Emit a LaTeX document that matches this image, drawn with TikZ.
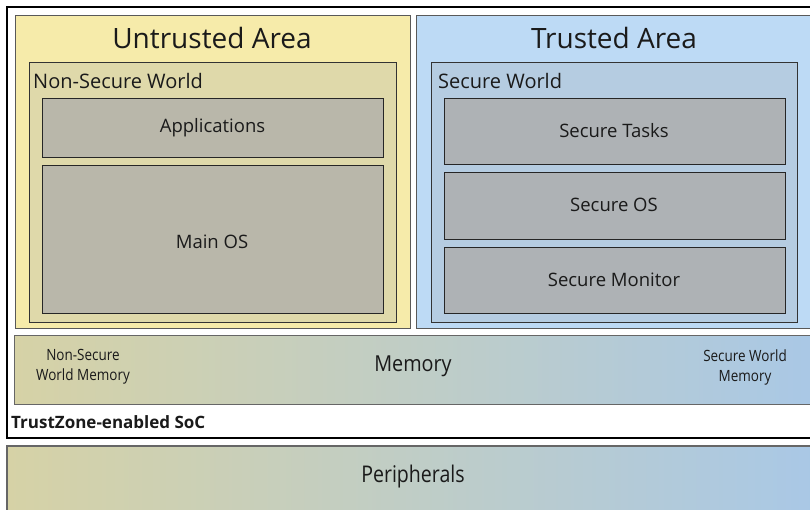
\documentclass[tikz,border=0pt]{standalone}
\usepackage{fontspec}
\setmainfont{Open Sans}
\usetikzlibrary{shadings}
\definecolor{untrfill}{HTML}{F6EBAA}
\definecolor{nswfill}{HTML}{DFD9AA}
\definecolor{lgray}{HTML}{B9B7AA}
\definecolor{trfill}{HTML}{BDDAF5}
\definecolor{swfill}{HTML}{B5CCE1}
\definecolor{rgray}{HTML}{AEB2B5}
\definecolor{gradL}{HTML}{D6D2A6}
\definecolor{gradM}{HTML}{D3D8C0}
\definecolor{gradR}{HTML}{A9C8E6}
\definecolor{txt}{HTML}{1A1A1A}
\tikzset{
  box/.style={draw, rectangle, anchor=north west, inner sep=0pt, outer sep=0pt},
  areabox/.style={box, draw=black!65, line width=0.9pt},
  worldbox/.style={box, draw=black!80, line width=0.8pt},
  layerbox/.style={box, draw=black!85, line width=0.8pt},
  gradbox/.style={box, draw=black!60, line width=0.9pt, shading=axis, left color=gradL, middle color=gradM, right color=gradR},
  lbl/.style={text=txt, inner sep=0pt, align=center},
  narrow/.style={transform shape, xscale=#1},
}
\begin{document}
\begin{tikzpicture}[x=1pt, y=-1pt]
\useasboundingbox (0,0) rectangle (810,510);
\fill[white] (0,0) rectangle (810,510);
% SoC
\node[box, draw=black, line width=1.3pt, minimum width=810pt, minimum height=431pt] (soc) at (7,7) {};
% areas
\node[areabox, fill=untrfill, minimum width=395pt, minimum height=313pt] (untr) at (15,15) {};
\node[areabox, fill=trfill, minimum width=400pt, minimum height=313pt] (tr) at (416,15) {};
% worlds
\node[worldbox, fill=nswfill, minimum width=367pt, minimum height=260pt] (nsw) at (29,62) {};
\node[worldbox, fill=swfill, minimum width=366pt, minimum height=260pt] (sw) at (431,62) {};
% layers left
\node[layerbox, fill=lgray, minimum width=341pt, minimum height=59pt] (apps) at (42,98) {};
\node[layerbox, fill=lgray, minimum width=341pt, minimum height=148pt] (mainos) at (42,165) {};
% layers right
\node[layerbox, fill=rgray, minimum width=341pt, minimum height=66pt] (stasks) at (444,98) {};
\node[layerbox, fill=rgray, minimum width=341pt, minimum height=67pt] (sos) at (444,172) {};
\node[layerbox, fill=rgray, minimum width=341pt, minimum height=66pt] (smon) at (444,247) {};
% memory and peripherals
\node[gradbox, minimum width=805pt, minimum height=69pt] (mem) at (14,335) {};
\node[gradbox, draw=black!60, line width=1.3pt, minimum width=810pt, minimum height=80pt] (periph) at (7,446) {};
% texts
\node[lbl, font=\fontsize{28}{32}\selectfont] (tUntr) at (212,38) {Untrusted Area};
\node[lbl, font=\fontsize{28}{32}\selectfont] (tTr) at (614,38) {Trusted Area};
\node[lbl, anchor=west, font=\fontsize{20}{24}\selectfont] (tNsw) at (33,81) {Non-Secure World};
\node[lbl, anchor=west, font=\fontsize{20}{24}\selectfont] (tSw) at (438,81) {Secure World};
\node[lbl, font=\fontsize{18.5}{22}\selectfont] (tApps) at (apps.center) {Applications};
\node[lbl, font=\fontsize{18.5}{22}\selectfont] (tMain) at (212,242) {Main OS};
\node[lbl, font=\fontsize{18.5}{22}\selectfont] (tST) at (614,131) {Secure Tasks};
\node[lbl, font=\fontsize{18.5}{22}\selectfont] (tSOS) at (614,205) {Secure OS};
\node[lbl, font=\fontsize{18.5}{22}\selectfont] (tSM) at (614,280) {Secure Monitor};
\node[lbl, narrow=0.9, font=\fontsize{22}{26}\selectfont] (tMem) at (413,366) {Memory};
\node[lbl, narrow=0.87, font=\fontsize{15.5}{20}\selectfont] (tNswm) at (83,367) {Non-Secure\\World Memory};
\node[lbl, narrow=0.87, font=\fontsize{15.5}{20}\selectfont] (tSwm) at (745,367) {Secure World\\Memory};
\node[lbl, anchor=west, font=\bfseries\fontsize{17}{20}\selectfont] (tSoc) at (11,422) {TrustZone-enabled SoC};
\node[lbl, narrow=0.85, font=\fontsize{23}{26}\selectfont] (tPer) at (413,477) {Peripherals};
\end{tikzpicture}
\end{document}
